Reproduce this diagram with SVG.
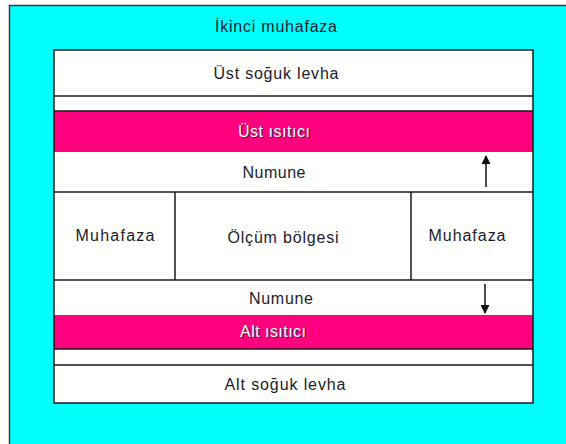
<svg xmlns="http://www.w3.org/2000/svg" width="566" height="444" viewBox="0 0 566 444">
  <defs>
    <marker id="head" viewBox="0 0 10 10" refX="9" refY="5" markerWidth="10" markerHeight="9" markerUnits="userSpaceOnUse" orient="auto">
      <path d="M0,0 L10,5 L0,10 Z" fill="#111"/>
    </marker>
  </defs>
  <style>
    .lbl { font-family: "Liberation Sans", Arial, sans-serif; font-size: 16px; fill: #1c1c2a; text-anchor: middle; }
    .hot { font-family: "Liberation Sans", Arial, sans-serif; font-size: 16px; fill: #ffffff; text-anchor: middle; }
    .shadow { font-family: "Liberation Sans", Arial, sans-serif; font-size: 16px; fill: #333; text-anchor: middle; }
    .edge { stroke: #1a1a1a; stroke-width: 1.5; fill: none; }
    .cell { fill: #ffffff; }
    .heater { fill: #ff007f; }
    .arrow { stroke: #111; stroke-width: 1.5; fill: none; marker-end: url(#head); }
  </style>

  <!-- secondary enclosure -->
  <g id="ikinci-muhafaza">
    <rect x="9.5" y="5.5" width="620" height="500" fill="#00ffff" stroke="#3a3a3a" stroke-width="1.5"/>
    <text class="lbl" x="276" y="32" textLength="122" lengthAdjust="spacing">İkinci muhafaza</text>
  </g>

  <g id="ust-soguk-levha">
    <rect class="cell" x="54" y="50" width="479" height="46"/>
    <text class="lbl" x="276" y="79" textLength="125" lengthAdjust="spacing">Üst soğuk levha</text>
  </g>

  <g id="ust-bosluk">
    <rect class="cell" x="54" y="96" width="479" height="15"/>
  </g>

  <g id="ust-isitici">
    <rect class="heater" x="54" y="111" width="479" height="41"/>
    <text class="shadow" x="275" y="138" textLength="72" lengthAdjust="spacing">Üst ısıtıcı</text>
    <text class="hot" x="274" y="137" textLength="72" lengthAdjust="spacing">Üst ısıtıcı</text>
  </g>

  <g id="ust-numune">
    <rect class="cell" x="54" y="152" width="479" height="40"/>
    <text class="lbl" x="274" y="178" textLength="63" lengthAdjust="spacing">Numune</text>
  </g>

  <g id="sol-muhafaza">
    <rect class="cell" x="54" y="192" width="121" height="88"/>
    <text class="lbl" x="115" y="241" textLength="79" lengthAdjust="spacing">Muhafaza</text>
  </g>

  <g id="olcum-bolgesi">
    <rect class="cell" x="175" y="192" width="236" height="88"/>
    <text class="lbl" x="283" y="243" textLength="111" lengthAdjust="spacing">Ölçüm bölgesi</text>
  </g>

  <g id="sag-muhafaza">
    <rect class="cell" x="411" y="192" width="122" height="88"/>
    <text class="lbl" x="467" y="241" textLength="77" lengthAdjust="spacing">Muhafaza</text>
  </g>

  <g id="alt-numune">
    <rect class="cell" x="54" y="280" width="479" height="35"/>
    <text class="lbl" x="281" y="304" textLength="64" lengthAdjust="spacing">Numune</text>
  </g>

  <g id="alt-isitici">
    <rect class="heater" x="54" y="315" width="479" height="34"/>
    <text class="shadow" x="274" y="338" textLength="66" lengthAdjust="spacing">Alt ısıtıcı</text>
    <text class="hot" x="273" y="337" textLength="66" lengthAdjust="spacing">Alt ısıtıcı</text>
  </g>

  <g id="alt-bosluk">
    <rect class="cell" x="54" y="349" width="479" height="16"/>
  </g>

  <g id="alt-soguk-levha">
    <rect class="cell" x="54" y="365" width="479" height="38"/>
    <text class="lbl" x="285" y="390" textLength="121" lengthAdjust="spacing">Alt soğuk levha</text>
  </g>

  <!-- layer boundaries -->
  <g id="sinirlar">
    <rect class="edge" x="54" y="50" width="479" height="353"/>
    <path class="edge" d="M54,96 H533 M54,111 H533 M54,192 H533 M54,280 H533 M54,349 H533 M54,365 H533 M175,192 V280 M411,192 V280"/>
  </g>

  <!-- heat flow directions -->
  <g id="connectors">
    <line class="arrow" x1="486" y1="187" x2="486" y2="156"/>
    <line class="arrow" x1="485" y1="284" x2="485" y2="313"/>
  </g>
</svg>
